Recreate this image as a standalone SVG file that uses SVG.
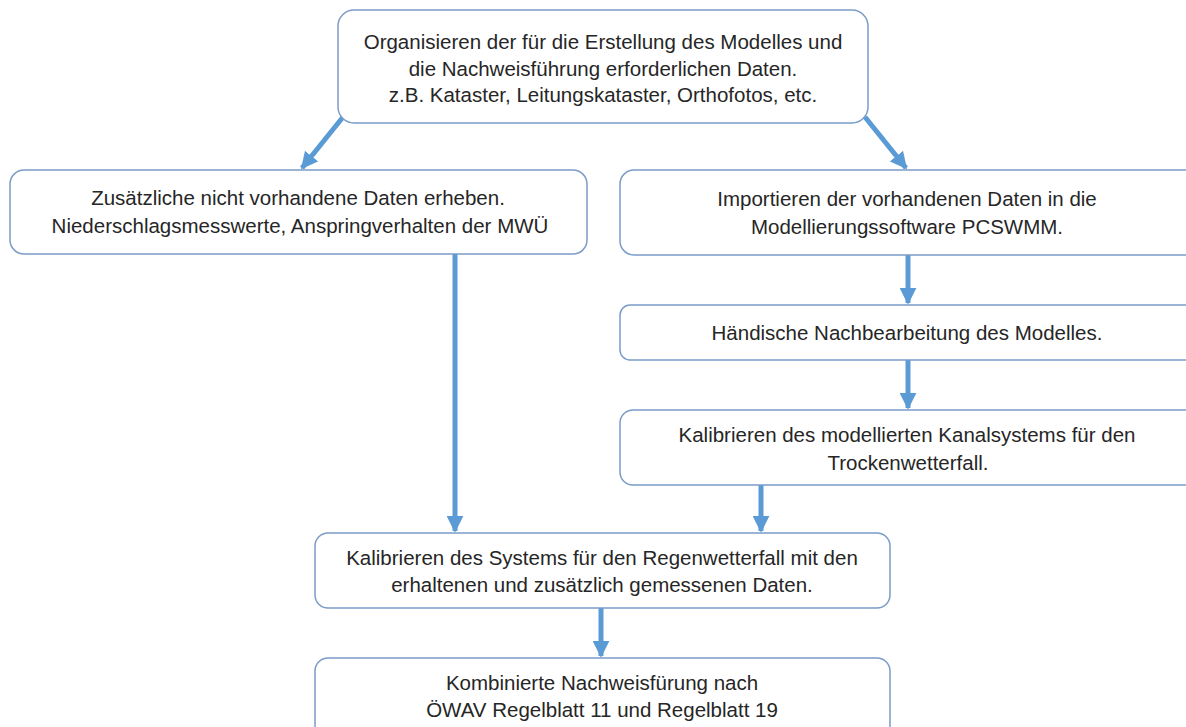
<svg xmlns="http://www.w3.org/2000/svg" width="1186" height="727" viewBox="0 0 1186 727">
<style>
.box{fill:#ffffff;stroke:#7b9cc9;stroke-width:1.5}
.t{font-family:"Liberation Sans",Arial,sans-serif;font-size:20.5px;fill:#262626;text-anchor:middle}
.c{stroke:#5b9bd5;stroke-width:5;fill:none}
</style>
<defs>
<marker id="ah" viewBox="0 0 10 10" refX="9" refY="5" markerWidth="3.4" markerHeight="3.4" markerUnits="strokeWidth" orient="auto">
<path d="M0,0 L10,5 L0,10 Z" fill="#5b9bd5"/>
</marker>
</defs>
<rect width="1186" height="727" fill="#ffffff"/>
<g id="connectors">
<line class="c" x1="343" y1="117" x2="302" y2="168" marker-end="url(#ah)"/>
<line class="c" x1="865" y1="117" x2="906" y2="168" marker-end="url(#ah)"/>
<line class="c" x1="455" y1="253" x2="455" y2="531" marker-end="url(#ah)"/>
<line class="c" x1="908" y1="254" x2="908" y2="303" marker-end="url(#ah)"/>
<line class="c" x1="908" y1="360" x2="908" y2="408" marker-end="url(#ah)"/>
<line class="c" x1="761" y1="485" x2="761" y2="531" marker-end="url(#ah)"/>
<line class="c" x1="601" y1="608" x2="601" y2="656" marker-end="url(#ah)"/>
</g>
<g id="n1">
<rect class="box" x="338" y="10" width="530" height="113" rx="16"/>
<text class="t" x="603" y="49">Organisieren der für die Erstellung des Modelles und</text>
<text class="t" x="603" y="76">die Nachweisführung erforderlichen Daten.</text>
<text class="t" x="603" y="102">z.B. Kataster, Leitungskataster, Orthofotos, etc.</text>
</g>
<g id="n2">
<rect class="box" x="10" y="170" width="577" height="84" rx="14"/>
<text class="t" x="298" y="205">Zusätzliche nicht vorhandene Daten erheben.</text>
<text class="t" x="300" y="233">Niederschlagsmesswerte, Anspringverhalten der MWÜ</text>
</g>
<g id="n3">
<rect class="box" x="620" y="170" width="580" height="85" rx="14"/>
<text class="t" x="907" y="206">Importieren der vorhandenen Daten in die</text>
<text class="t" x="907" y="234">Modellierungssoftware PCSWMM.</text>
</g>
<g id="n4">
<rect class="box" x="620" y="305" width="580" height="55" rx="10"/>
<text class="t" x="907" y="340">Händische Nachbearbeitung des Modelles.</text>
</g>
<g id="n5">
<rect class="box" x="620" y="410" width="580" height="75" rx="13"/>
<text class="t" x="907" y="442">Kalibrieren des modellierten Kanalsystems für den</text>
<text class="t" x="908" y="470">Trockenwetterfall.</text>
</g>
<g id="n6">
<rect class="box" x="315" y="533" width="575" height="75" rx="13"/>
<text class="t" x="602" y="565">Kalibrieren des Systems für den Regenwetterfall mit den</text>
<text class="t" x="602" y="592">erhaltenen und zusätzlich gemessenen Daten.</text>
</g>
<g id="n7">
<rect class="box" x="315" y="658" width="575" height="80" rx="13"/>
<text class="t" x="602" y="690">Kombinierte Nachweisfürung nach</text>
<text class="t" x="602" y="717">ÖWAV Regelblatt 11 und Regelblatt 19</text>
</g>
</svg>
